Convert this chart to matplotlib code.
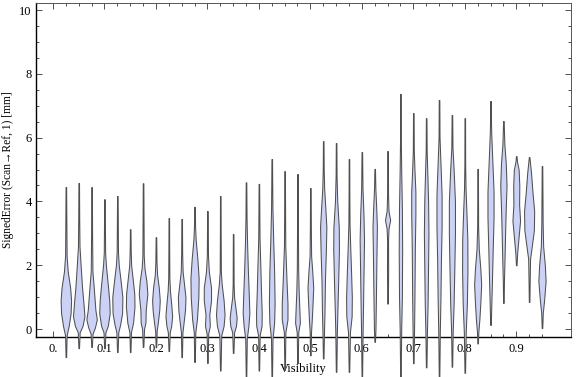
import numpy as np
import matplotlib
matplotlib.use("Agg")
from matplotlib import pyplot as plt

plt.rcParams['font.family'] = ['Liberation Serif', 'DejaVu Serif']
plt.rcParams['font.size'] = 9

# violin centres (Visibility)
positions = [0.025, 0.05, 0.075, 0.1, 0.125, 0.15, 0.175, 0.2, 0.225, 0.25,
             0.275, 0.3, 0.325, 0.35, 0.375, 0.4, 0.425, 0.45, 0.475, 0.5,
             0.525, 0.55, 0.575, 0.6, 0.625, 0.65, 0.675, 0.7, 0.725, 0.75,
             0.775, 0.8, 0.825, 0.85, 0.875, 0.9, 0.925, 0.95]

# density profile of each violin: (signed error, relative density)
profiles = [
    [(-0.88, 0.3), (-0.2, 0.8), (0.1, 3), (0.5, 5), (0.9, 5.5), (1.3, 4.5), (1.8, 2), (2.3, 0.8), (3.5, 0.5), (4.45, 0.3)],
    [(-0.6, 0.3), (-0.1, 1), (0.1, 4), (0.4, 6), (0.8, 5), (1.3, 3.5), (2.0, 2), (2.6, 0.8), (3.5, 0.5), (4.58, 0.3)],
    [(-0.56, 0.3), (-0.15, 1), (0.05, 3.5), (0.3, 5.5), (0.6, 4), (1.0, 3), (1.4, 2), (1.8, 0.9), (3.0, 0.5), (4.45, 0.3)],
    [(-0.6, 0.3), (-0.1, 1), (0.1, 3.5), (0.5, 5.5), (0.9, 5), (1.4, 3.5), (2.0, 1.5), (2.4, 0.7), (3.2, 0.5), (4.07, 0.3)],
    [(-0.72, 0.3), (-0.1, 1), (0.15, 3), (0.5, 5), (1.0, 5.3), (1.5, 3.5), (2.0, 1.5), (2.4, 0.7), (3.2, 0.5), (4.17, 0.3)],
    [(-0.72, 0.3), (-0.1, 0.8), (0.2, 3), (0.7, 4.5), (1.1, 4.3), (1.6, 2.5), (2.0, 1), (2.5, 0.5), (3.13, 0.3)],
    [(-0.56, 0.3), (0.0, 1), (0.2, 2.5), (0.6, 2.8), (1.1, 4.5), (1.5, 3.5), (1.9, 1.5), (2.3, 0.7), (3.4, 0.5), (4.57, 0.3)],
    [(-0.57, 0.3), (-0.05, 0.8), (0.2, 2), (0.6, 3.5), (0.9, 4), (1.3, 3), (1.7, 1.2), (2.1, 0.6), (2.88, 0.3)],
    [(-0.69, 0.3), (-0.1, 1), (0.1, 2.5), (0.4, 3.5), (0.8, 2.5), (1.2, 1.2), (1.6, 0.6), (2.5, 0.4), (3.48, 0.3)],
    [(-0.88, 0.3), (-0.1, 0.8), (0.2, 2), (0.6, 3.5), (1.0, 4), (1.4, 2.5), (1.8, 1), (2.4, 0.5), (3.45, 0.3)],
    [(-1.03, 0.3), (-0.1, 0.8), (0.3, 2.5), (1.0, 4), (1.6, 4.3), (2.2, 3), (2.8, 1.2), (3.2, 0.6), (3.83, 0.3)],
    [(-1.06, 0.3), (-0.15, 0.8), (0.1, 2.5), (0.45, 2), (0.9, 3.8), (1.3, 3.8), (1.8, 1.5), (2.3, 0.6), (3.7, 0.3)],
    [(-1.3, 0.3), (-0.2, 1), (0.1, 3.5), (0.45, 4.5), (0.9, 3.5), (1.4, 1.5), (1.8, 0.6), (3.0, 0.4), (4.17, 0.3)],
    [(-0.75, 0.3), (-0.1, 1), (0.1, 3), (0.35, 3.7), (0.65, 2.5), (1.0, 1), (1.4, 0.5), (2.98, 0.3)],
    [(-1.5, 0.3), (-0.3, 0.8), (0.1, 2.5), (0.5, 3.5), (1.0, 3), (1.8, 2), (2.6, 1.2), (3.4, 0.6), (4.6, 0.3)],
    [(-1.3, 0.3), (-0.2, 0.8), (0.1, 2.8), (0.5, 3), (1.2, 2.2), (2.0, 1.5), (2.8, 0.7), (3.5, 0.5), (4.55, 0.3)],
    [(-1.5, 0.3), (-0.3, 0.8), (0.2, 2.5), (0.8, 3), (1.8, 2.5), (2.8, 1.5), (3.8, 0.7), (4.5, 0.5), (5.33, 0.3)],
    [(-1.28, 0.3), (-0.1, 0.8), (0.3, 3), (0.8, 3), (1.5, 2), (2.6, 0.7), (3.5, 0.5), (4.95, 0.3)],
    [(-1.07, 0.3), (-0.1, 0.8), (0.2, 2.5), (0.6, 2), (1.2, 1.2), (1.9, 0.7), (3.0, 0.5), (4.86, 0.3)],
    [(-0.82, 0.3), (-0.1, 0.7), (0.3, 1.5), (0.8, 2.3), (1.3, 3), (1.8, 2), (2.3, 0.8), (3.2, 0.5), (4.42, 0.3)],
    [(-0.92, 0.3), (-0.1, 0.8), (0.5, 1.3), (1.5, 1.8), (2.5, 2.8), (3.2, 3.3), (3.8, 2.2), (4.4, 1), (5.0, 0.5), (5.89, 0.3)],
    [(-1.34, 0.3), (-0.1, 0.8), (0.5, 1.3), (1.5, 2.2), (2.5, 3), (3.2, 2.8), (4.0, 1.2), (4.8, 0.5), (5.83, 0.3)],
    [(-1.34, 0.3), (-0.1, 1), (0.4, 2.8), (1.0, 3), (1.8, 2.2), (2.6, 1.3), (3.3, 0.6), (4.2, 0.4), (5.33, 0.3)],
    [(-1.5, 0.3), (-0.1, 0.8), (0.8, 1.3), (1.8, 1.8), (2.8, 2.3), (3.6, 1.7), (4.4, 0.7), (5.55, 0.3)],
    [(-0.4, 0.3), (0.0, 0.8), (1.0, 1.3), (2.2, 1.8), (3.2, 2.3), (3.8, 1.6), (4.4, 0.7), (5.02, 0.3)],
    [(0.8, 0.3), (1.8, 0.6), (2.8, 0.5), (3.15, 1), (3.42, 2.7), (3.7, 1), (4.2, 0.5), (5.58, 0.3)],
    [(-1.5, 0.3), (0.0, 0.8), (1.0, 1.5), (2.5, 1.8), (3.8, 1.5), (5.0, 0.8), (6.0, 0.4), (7.37, 0.3)],
    [(-1.07, 0.3), (0.0, 0.8), (1.0, 1.2), (2.5, 1.6), (3.6, 2.2), (4.3, 2.2), (5.0, 1.2), (5.6, 0.5), (6.77, 0.3)],
    [(-1.2, 0.3), (-0.1, 0.8), (0.8, 1.5), (2.0, 2), (3.0, 2.4), (4.0, 2), (5.0, 1.1), (5.6, 0.5), (6.61, 0.3)],
    [(-1.5, 0.3), (-0.1, 0.8), (1.0, 1.5), (2.2, 2), (3.2, 2.7), (4.2, 2.7), (5.2, 1.5), (6.0, 0.5), (7.18, 0.3)],
    [(-1.18, 0.3), (-0.1, 0.8), (0.8, 1.8), (2.0, 2.6), (3.0, 3.2), (4.0, 3.2), (5.0, 1.8), (5.7, 0.6), (6.71, 0.3)],
    [(-1.37, 0.3), (-0.1, 1), (0.8, 2.2), (1.8, 2.8), (2.8, 2.7), (3.6, 1.8), (4.4, 0.8), (5.2, 0.4), (6.61, 0.3)],
    [(-0.45, 0.3), (-0.1, 0.7), (0.3, 1.8), (0.8, 2.8), (1.4, 3.7), (1.9, 2.8), (2.5, 1.2), (3.2, 0.5), (5.02, 0.3)],
    [(0.13, 0.3), (0.6, 0.7), (1.5, 1.5), (2.5, 2.3), (3.5, 3.2), (4.3, 3.2), (5.2, 2), (6.1, 0.8), (6.6, 0.4), (7.15, 0.3)],
    [(0.82, 0.3), (1.5, 0.6), (2.2, 1.2), (3.0, 1.8), (3.8, 2.5), (4.5, 3.3), (5.2, 2.5), (5.8, 1), (6.52, 0.3)],
    [(2.0, 0.3), (2.4, 1), (2.9, 2.5), (3.4, 4), (3.9, 3), (4.5, 3.2), (5.0, 2.5), (5.25, 0.8), (5.42, 0.3)],
    [(0.85, 0.3), (1.5, 0.6), (2.2, 1), (2.6, 2.8), (3.1, 5), (3.7, 5.3), (4.3, 3.5), (4.9, 2), (5.39, 0.3)],
    [(0.03, 0.3), (0.5, 0.8), (0.9, 2.2), (1.5, 3.8), (2.0, 3), (2.6, 1.2), (3.3, 0.7), (4.2, 0.5), (5.11, 0.3)],
]

xticks = [0.0, 0.1, 0.2, 0.3, 0.4, 0.5, 0.6, 0.7, 0.8, 0.9]
xticklabels = ["0.", "0.1", "0.2", "0.3", "0.4", "0.5", "0.6", "0.7", "0.8", "0.9"]
yticks = [0, 2, 4, 6, 8, 10]

fig = plt.figure(figsize=(5.76, 3.77), dpi=100)
ax = fig.add_axes([0.0625, 0.106, 0.9285, 0.886])

scale = 1 / 540.0  # density units -> x units
for pos, prof in zip(positions, profiles):
    ys = np.array([p[0] for p in prof])
    ws = np.array([p[1] for p in prof]) * scale
    ax.fill_betweenx(ys, pos - ws, pos + ws, facecolor="#cbd2f6",
                     edgecolor="#505050", linewidth=0.75, clip_on=False, zorder=3)

ax.set_xlim(-0.033, 1.006)
ax.set_ylim(-0.25, 10.22)

ax.set_xticks(xticks)
ax.set_xticklabels(xticklabels)
ax.set_xticks(positions, minor=True)
ax.set_yticks(yticks)
ax.set_yticks(np.arange(0, 10.01, 0.5), minor=True)

ax.tick_params(which="both", direction="in", top=True, right=True, width=0.6, color="#333333")
ax.tick_params(which="major", length=4, pad=4)
ax.tick_params(which="minor", length=2.3)
ax.tick_params(axis="y", pad=3)

for s in ["left", "bottom"]:
    ax.spines[s].set_linewidth(1.0)
    ax.spines[s].set_color("black")
for s in ["top", "right"]:
    ax.spines[s].set_linewidth(0.7)
    ax.spines[s].set_color("#555555")

ax.set_xlabel("Visibility", labelpad=6)
ax.set_ylabel("SignedError (Scan\u2192Ref, 1) [mm]", labelpad=4, fontsize=8.3)

plt.savefig("out.png", dpi=100)
